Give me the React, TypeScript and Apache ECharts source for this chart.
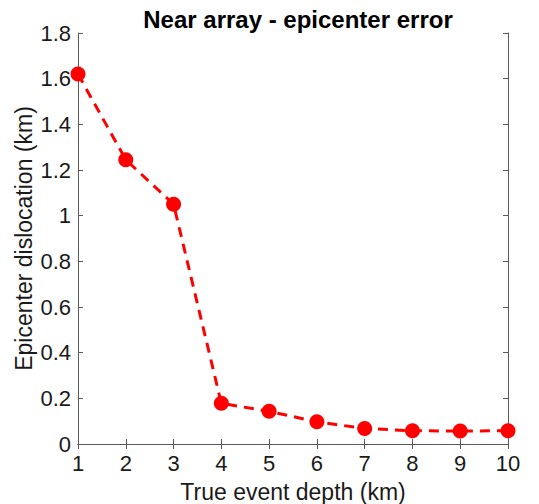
import React, { useEffect, useRef } from "react";
import * as echarts from "echarts";

const depths = [1, 2, 3, 4, 5, 6, 7, 8, 9, 10];
const errors = [1.62, 1.245, 1.05, 0.178, 0.143, 0.097, 0.068, 0.058, 0.057, 0.058];
const title = "Near array - epicenter error";
const xName = "True event depth (km)";
const yName = "Epicenter dislocation (km)";

export default function App() {
  const ref = useRef<HTMLDivElement>(null);
  useEffect(() => {
    const chart = echarts.init(ref.current!, null, { renderer: "svg" });
    const font = "Liberation Sans, Arial, Helvetica, sans-serif";
    const axisLine = { show: true, lineStyle: { color: "#5a5a5a", width: 1 } };
    const tick = { show: true, inside: true, length: 5, lineStyle: { color: "#5a5a5a" } };
    chart.setOption({
      animation: false,
      backgroundColor: "#ffffff",
      title: {
        text: title,
        left: 293,
        textAlign: "center",
        top: 2,
        textStyle: { fontFamily: font, fontSize: 24, fontWeight: "bold", color: "#000" },
      },
      grid: { left: 78, right: 31, top: 33, bottom: 60, outerBoundsMode: "none", containLabel: false },
      xAxis: [
        {
          type: "value",
          min: 1,
          max: 10,
          interval: 1,
          position: "bottom",
          axisLine,
          axisTick: tick,
          splitLine: { show: false },
          axisLabel: { fontFamily: font, fontSize: 22, color: "#1a1a1a", margin: 8 },
          name: xName,
          nameLocation: "middle",
          nameGap: 36,
          nameMoveOverlap: false,
          nameTextStyle: { fontFamily: font, fontSize: 23, color: "#1a1a1a" },
        },
        {
          type: "value",
          min: 1,
          max: 10,
          interval: 1,
          position: "top",
          axisLine,
          axisTick: tick,
          splitLine: { show: false },
          axisLabel: { show: false },
        },
      ],
      yAxis: [
        {
          type: "value",
          min: 0,
          max: 1.8,
          interval: 0.2,
          position: "left",
          axisLine,
          axisTick: tick,
          splitLine: { show: false },
          axisLabel: {
            fontFamily: font,
            fontSize: 22,
            color: "#1a1a1a",
            margin: 7,
            formatter: (v: number) => String(Math.round(v * 10) / 10),
          },
          name: yName,
          nameLocation: "middle",
          nameGap: 43,
          nameMoveOverlap: false,
          nameTextStyle: { fontFamily: font, fontSize: 23, color: "#1a1a1a" },
        },
        {
          type: "value",
          min: 0,
          max: 1.8,
          interval: 0.2,
          position: "right",
          axisLine,
          axisTick: tick,
          splitLine: { show: false },
          axisLabel: { show: false },
        },
      ],
      series: [
        {
          type: "line",
          data: depths.map((d, i) => [d, errors[i]]),
          xAxisIndex: 0,
          yAxisIndex: 0,
          symbol: "circle",
          symbolSize: 15,
          itemStyle: { color: "#ff0000" },
          lineStyle: { color: "#ff0000", width: 3, type: [10, 7] },
          clip: false,
        },
      ],
    });
    return () => chart.dispose();
  }, []);
  return <div ref={ref} style={{ width: 539, height: 504, position: "absolute", left: 0, top: 0 }} />;
}
